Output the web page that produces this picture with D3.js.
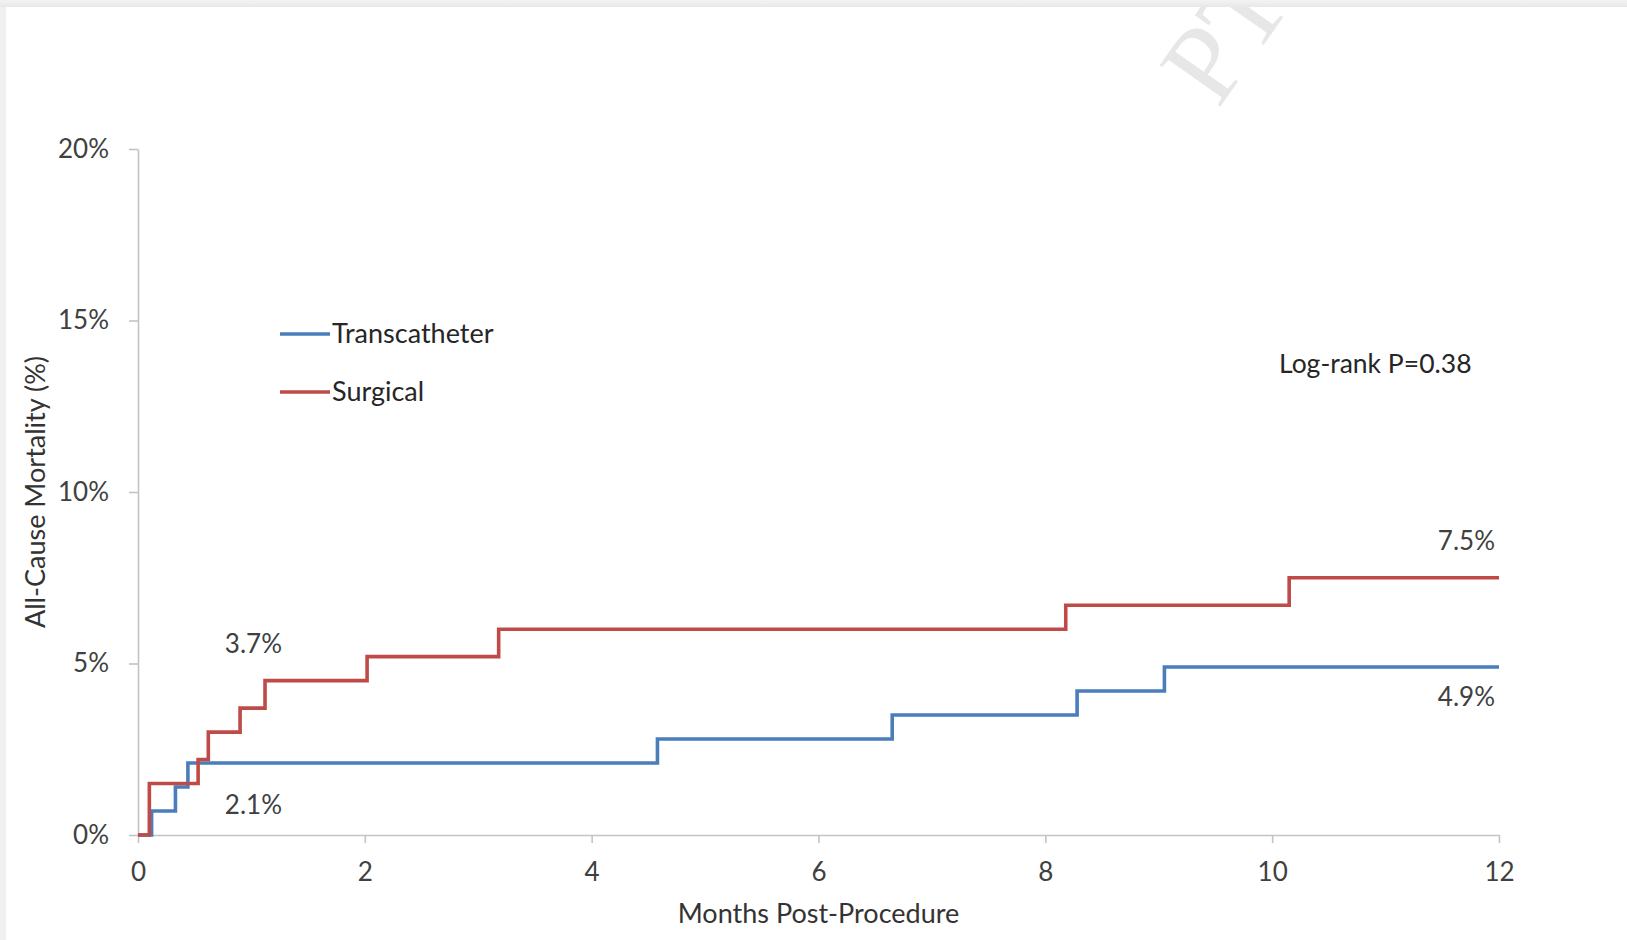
<!DOCTYPE html>
<html>
<head>
<meta charset="utf-8">
<script src="https://cdn.jsdelivr.net/npm/d3@7/dist/d3.min.js"></script>
<style>
  html, body { margin: 0; padding: 0; background: #ffffff; }
  svg { display: block; }
  text { font-family: Lato, "Open Sans", sans-serif; }
  text.watermark { font-family: "Liberation Serif", "DejaVu Serif", serif; }
</style>
</head>
<body>
<svg id="chart" width="1627" height="940"></svg>
<script>
// Kaplan-Meier cumulative all-cause mortality, 12 months of follow-up
const seriesNames = ["Transcatheter", "Surgical"];
const seriesColors = ["#4a7ebb", "#be4b48"];

// event times (months) and cumulative mortality (%) after each event
const transcatheterMonths = [0, 0.12, 0.33, 0.44, 4.58, 6.65, 8.28, 9.05, 12];
const transcatheterRate   = [0, 0.7, 1.4, 2.1, 2.8, 3.5, 4.2, 4.9, 4.9];
const surgicalMonths = [0, 0.1, 0.53, 0.62, 0.9, 1.12, 2.02, 3.18, 8.18, 10.15, 12];
const surgicalRate   = [0, 1.5, 2.2, 3.0, 3.7, 4.5, 5.2, 6.0, 6.7, 7.5, 7.5];

const xTicks = [0, 2, 4, 6, 8, 10, 12];
const yTicks = [0, 5, 10, 15, 20];

// rates called out on the plot
const callouts = [
  { series: "Surgical", month: 1, value: 3.7 },
  { series: "Transcatheter", month: 1, value: 2.1 },
  { series: "Surgical", month: 12, value: 7.5 },
  { series: "Transcatheter", month: 12, value: 4.9 }
];
const pValueText = "Log-rank P=0.38";
const xTitle = "Months Post-Procedure";
const yTitle = "All-Cause Mortality (%)";

const svg = d3.select("#chart");
const W = 1627, H = 940;

// frame of the viewer around the figure
const defs = svg.append("defs");
const topGrad = defs.append("linearGradient").attr("id", "topband").attr("x1", 0).attr("y1", 0).attr("x2", 0).attr("y2", 1);
topGrad.append("stop").attr("offset", "0%").attr("stop-color", "#f3f3f3");
topGrad.append("stop").attr("offset", "100%").attr("stop-color", "#e8e8e8");
svg.append("rect").attr("x", 0).attr("y", 0).attr("width", W).attr("height", H).attr("fill", "#ffffff");
svg.append("rect").attr("x", 0).attr("y", 0).attr("width", 6).attr("height", H).attr("fill", "#f0f0f0");

// faint manuscript watermark
svg.append("text")
  .attr("class", "watermark")
  .attr("transform", "translate(1218,110) rotate(-55)")
  .attr("font-size", 112)
  .attr("fill", "#e7e7e7")
  .text("PT");
svg.append("rect").attr("x", 0).attr("y", 0).attr("width", W).attr("height", 7).attr("fill", "url(#topband)");

const plot = { left: 138, right: 1499, top: 149, bottom: 835 };

const x = d3.scaleLinear().domain([0, 12]).range([plot.left, plot.right]);
const y = d3.scaleLinear().domain([0, 20]).range([plot.bottom, plot.top]);

const axisColor = "#c4c4c4";
const tickColor = "#404040";

// y axis
const yAxis = svg.append("g")
  .attr("transform", `translate(${plot.left},0)`)
  .call(d3.axisLeft(y).tickValues(yTicks).tickFormat(d => d + "%").tickSize(9).tickSizeOuter(0).tickPadding(20));
// x axis
const xAxis = svg.append("g")
  .attr("transform", `translate(0,${plot.bottom})`)
  .call(d3.axisBottom(x).tickValues(xTicks).tickSize(8).tickSizeOuter(0).tickPadding(20));

[yAxis, xAxis].forEach(g => {
  g.select(".domain").attr("stroke", axisColor).attr("stroke-width", 1.6);
  g.selectAll(".tick line").attr("stroke", axisColor).attr("stroke-width", 1.6);
  g.selectAll(".tick text").attr("fill", tickColor).attr("font-size", 26).attr("font-family", "Lato, sans-serif");
});

// axis titles
svg.append("text")
  .attr("x", (plot.left + plot.right) / 2)
  .attr("y", 923)
  .attr("text-anchor", "middle")
  .attr("font-size", 27)
  .attr("fill", "#333333")
  .text(xTitle);
svg.append("text")
  .attr("transform", `translate(45,${(plot.top + plot.bottom) / 2}) rotate(-90)`)
  .attr("text-anchor", "middle")
  .attr("font-size", 27)
  .attr("fill", "#333333")
  .text(yTitle);

// survival step curves
const line = d3.line()
  .x(d => x(d[0]))
  .y(d => y(d[1]))
  .curve(d3.curveStepAfter);

const series = [
  { name: "Transcatheter", months: transcatheterMonths, rate: transcatheterRate },
  { name: "Surgical", months: surgicalMonths, rate: surgicalRate }
];

svg.append("g").selectAll("path")
  .data(series)
  .join("path")
  .attr("d", s => line(s.months.map((m, i) => [m, s.rate[i]])))
  .attr("fill", "none")
  .attr("stroke", s => seriesColors[seriesNames.indexOf(s.name)])
  .attr("stroke-width", 3.6)
  .attr("stroke-linejoin", "miter");

// legend
const legend = svg.append("g").attr("transform", "translate(280,334)");
seriesNames.forEach((name, i) => {
  const g = legend.append("g").attr("transform", `translate(0,${i * 58})`);
  g.append("line").attr("x1", 0).attr("x2", 50).attr("y1", 0).attr("y2", 0)
    .attr("stroke", seriesColors[i]).attr("stroke-width", 3.6);
  g.append("text").attr("x", 52).attr("y", 0).attr("dy", "0.35em")
    .attr("font-size", 27).attr("fill", "#262626").text(name);
});

// p-value
svg.append("text")
  .attr("x", 1279).attr("y", 364).attr("dy", "0.35em")
  .attr("font-size", 26.5).attr("fill", "#262626")
  .text(pValueText);

// rate callouts, placed above or below their curve
const calloutOffset = { "Surgical": { 1: -64, 12: -37 }, "Transcatheter": { 1: 42, 12: 30 } };
svg.append("g").selectAll("text")
  .data(callouts)
  .join("text")
  .attr("x", d => d.month === 12 ? x(d.month) - 4 : x(d.month) + 2)
  .attr("y", d => y(d.value) + calloutOffset[d.series][d.month])
  .attr("dy", "0.35em")
  .attr("text-anchor", d => d.month === 12 ? "end" : "middle")
  .attr("font-size", 26)
  .attr("fill", "#404040")
  .text(d => d.value.toFixed(1) + "%");
</script>
</body>
</html>
